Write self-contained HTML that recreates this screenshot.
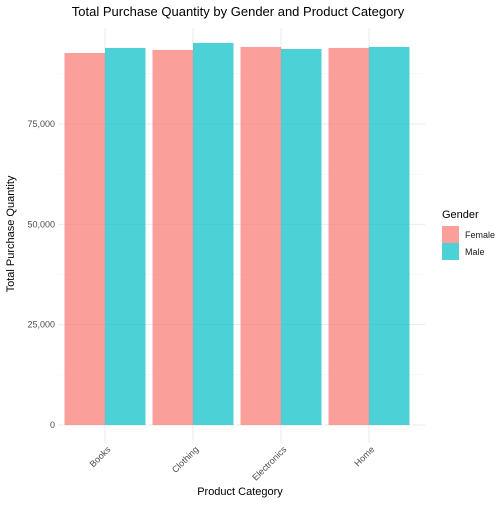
<!DOCTYPE html>
<html><head><meta charset="utf-8"><style>body{margin:0;background:#fff}svg{font-family:"Liberation Sans",sans-serif}</style></head>
<body>
<svg width="504" height="504">
<g id="grid"></g><g id="bars"></g><g id="axes"></g>
<text x="238" y="16" text-anchor="middle" font-size="13" fill="#000">Total Purchase Quantity by Gender and Product Category</text>
<text x="240" y="495" text-anchor="middle" font-size="11" fill="#000">Product Category</text>
<text transform="translate(14,234) rotate(-90)" text-anchor="middle" font-size="11" fill="#000">Total Purchase Quantity</text>
<g>
<text x="442" y="218" font-size="11">Gender</text>
<rect x="442" y="226" width="17" height="17" fill="#F8766D" fill-opacity="0.7"/>
<text x="465" y="238" font-size="9" fill="#1a1a1a">Female</text>
<rect x="442" y="243" width="17" height="17" fill="#00BFC4" fill-opacity="0.7"/>
<text x="465" y="255" font-size="9" fill="#1a1a1a">Male</text>
</g>
</svg>
<script>
const categories=["Books","Clothing","Electronics","Home"];
const female=[92700,93450,94200,93950];
const male=[93950,95200,93700,94200];
const yTicks=[0,25000,50000,75000];
const yTickLabels=["0","25,000","50,000","75,000"];
const NS="http://www.w3.org/2000/svg";
const x0=60,step=88,y0=425,k=301/75000;
const xc=i=>x0+step*(i+0.5)-(60+88*0.5-105);
const y=v=>y0-v*k;
function mk(t,a,p){const e=document.createElementNS(NS,t);for(const q in a)e.setAttribute(q,a[q]);document.getElementById(p).appendChild(e);return e;}
for(let v=0;v<=100000;v+=12500){if(y(v)<28)break;const l=mk('line',{x1:58,x2:425,y1:y(v),y2:y(v),stroke:v%25000?'#f3f3f3':'#ebebeb','stroke-width':v%25000?0.5:1},'grid');

}
categories.forEach((c,i)=>{const l=mk('line',{x1:xc(i),x2:xc(i),y1:28,y2:443,stroke:'#ebebeb'},'grid');


const w=40.5;
const r1=mk('rect',{x:xc(i)-w,y:y(female[i]),width:w,height:y0-y(female[i]),fill:'#F8766D','fill-opacity':0.7},'bars');


const r2=mk('rect',{x:xc(i),y:y(male[i]),width:w,height:y0-y(male[i]),fill:'#00BFC4','fill-opacity':0.7},'bars');


const t=mk('text',{transform:`translate(${xc(i)+6},${450}) rotate(-45)`,'text-anchor':'end','font-size':9,fill:'#4d4d4d'},'axes');t.textContent=c;

});
yTicks.forEach((v,i)=>{const t=mk('text',{x:55,y:y(v)+3,'text-anchor':'end','font-size':9,fill:'#4d4d4d'},'axes');t.textContent=yTickLabels[i];

});
</script>
</body></html>
